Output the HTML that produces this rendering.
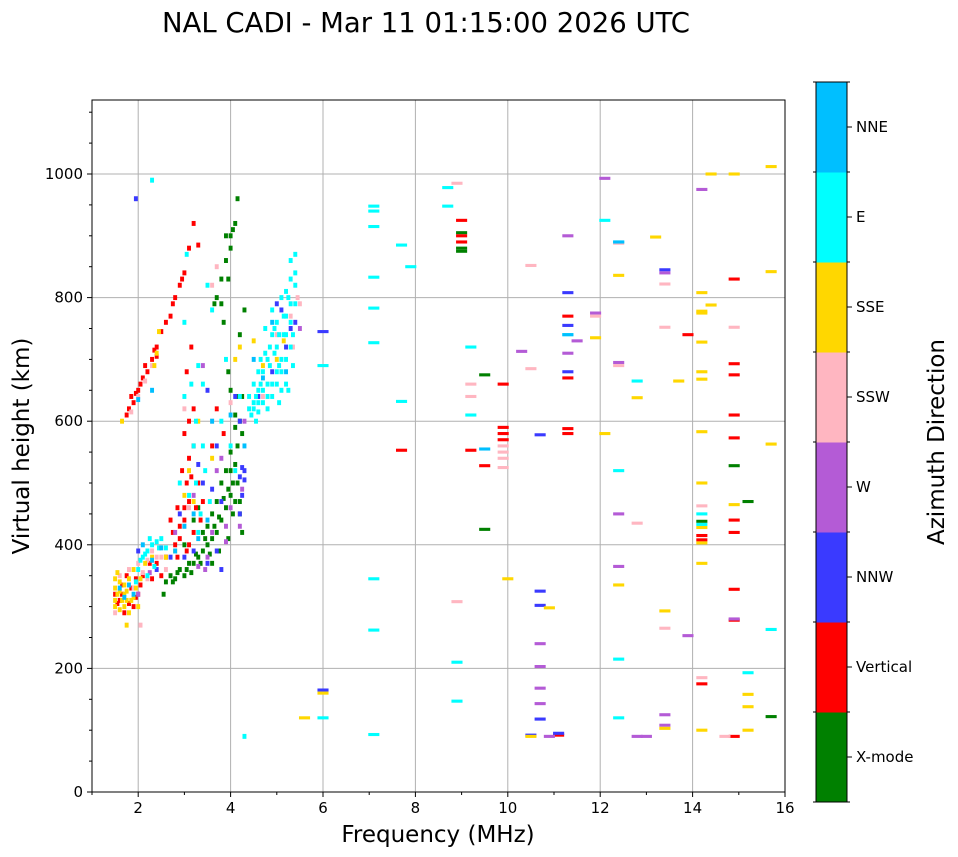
<!DOCTYPE html>
<html><head><meta charset="utf-8"><style>
body{margin:0;background:#fff;}
svg{display:block;font-family:"DejaVu Sans","Liberation Sans",sans-serif;}
</style></head><body>
<svg id="chart" width="958" height="857" viewBox="0 0 958 857" xmlns="http://www.w3.org/2000/svg">
<text x="426" y="32" font-size="27.5" text-anchor="middle">NAL CADI - Mar 11 01:15:00 2026 UTC</text>
<g id="grid"></g>
<g id="marks"></g>
<rect x="92" y="100" width="693" height="692" fill="none" stroke="#000" stroke-width="1"/>
<g id="axes"></g>
<text x="438" y="842" font-size="23" text-anchor="middle">Frequency (MHz)</text>
<text transform="translate(29,446) rotate(-90)" font-size="23" text-anchor="middle">Virtual height (km)</text>
<g id="cbar"></g>
<text transform="translate(944,442) rotate(-90)" font-size="23" text-anchor="middle">Azimuth Direction</text>
</svg>
<script>
const dirNames=["X-mode","Vertical","NNW","W","SSW","SSE","E","NNE"];
const dirColors=["#008000","#ff0000","#3a3aff","#b45bd6","#ffb6c1","#ffd700","#00ffff","#00bfff"];
const xTicks=[2,4,6,8,10,12,14,16];
const yTicks=[0,200,400,600,800,1000];

// Each series: [freq MHz, virtual height km]
const xmodePts=[[2.6,340],[2.7,350],[2.8,345],[2.9,360],[3.0,350],[3.1,370],[3.2,370],[3.3,380],[3.4,390],[3.5,400],[3.6,410],[3.7,420],[3.8,440],[3.9,460],[4.0,480],[4.05,500],[4.1,530],[4.15,560],[4.2,600],[4.25,640],[3.5,430],[3.6,450],[3.7,470],[3.8,500],[3.9,520],[4.0,550],[4.1,590],[3.4,420],[3.0,400],[3.2,440],[3.3,460],[2.55,320],[3.7,800],[3.8,830],[3.9,860],[4.0,900],[4.1,920],[4.0,880],[3.85,760],[4.2,740],[4.15,960],[3.95,680],[4.3,780],[4.2,470],[3.6,370],[4.2,450],[4.25,420],[3.75,390],[3.95,410],[4.1,610],
[2.75,340],[2.85,355],[3.05,360],[3.15,355],[3.25,385],[3.35,370],[3.45,410],[3.55,385],[3.65,430],[3.75,445],[3.85,475],[3.95,490],[4.05,450],[4.15,500],[4.25,580],[4.0,520],[4.1,470],[3.9,900],[4.05,910],[3.95,830],[3.8,790],[4.15,640],[4.0,650],[3.65,790],
[9.0,905],[9.0,880],[9.0,875],[9.5,675],[9.5,425],[14.2,438],[14.9,528],[15.2,470],[15.7,122]];
const verticalPts=[[1.5,320],[1.6,310],[1.7,290],[1.75,350],[1.85,330],[1.9,300],[2.0,320],[2.1,350],[1.8,620],[1.9,630],[2.0,650],[2.05,660],[2.1,670],[2.2,680],[2.3,700],[2.4,720],[1.75,610],[2.5,745],[2.7,770],[2.8,800],[2.9,820],[3.0,840],[3.1,880],[3.2,920],[3.3,885],[2.6,380],[2.8,400],[2.9,430],[3.0,460],[3.05,500],[3.1,540],[3.0,580],[3.2,620],[3.05,680],[3.15,720],[3.3,500],[3.4,470],[3.6,560],[2.7,440],[3.2,420],[2.5,350],[3.7,620],[3.85,580],[1.65,335],[1.95,345],[2.25,370],[2.85,460],[2.95,520],[3.1,400],[2.4,705],
[1.55,305],[1.65,320],[1.8,305],[1.95,315],[2.05,335],[1.85,640],[1.95,645],[2.15,690],[2.35,715],[2.6,760],[2.75,790],[2.95,830],[2.9,410],[3.0,440],[3.1,470],[3.15,510],[3.2,560],[3.1,600],[2.85,380],[2.75,420],[3.25,460],[3.35,440],[2.4,370],[2.3,345],[3.05,390],
[7.7,553],[9.0,925],[9.0,900],[9.0,890],[9.2,553],[9.5,528],[9.9,660],[9.9,590],[9.9,580],[9.9,570],[11.1,92],[11.3,770],[11.3,670],[11.3,588],[11.3,580],[13.9,740],[14.2,415],[14.2,408],[14.2,175],[14.9,830],[14.9,693],[14.9,675],[14.9,610],[14.9,573],[14.9,440],[14.9,420],[14.9,328],[14.9,278],[14.9,90]];
const nnwPts=[[2.0,390],[2.4,360],[2.9,450],[3.0,380],[3.2,390],[3.4,500],[3.6,490],[3.8,470],[4.2,510],[4.25,525],[4.3,505],[4.2,450],[3.5,650],[3.7,560],[5.0,790],[5.1,780],[5.3,750],[4.9,680],[4.6,640],[5.2,720],[4.1,640],[3.3,530],[2.7,380],[1.95,960],[3.8,360],[4.25,480],[4.3,520],[3.5,370],[3.7,390],[4.2,600],[5.4,760],
[6.0,745],[6.0,165],[10.5,92],[10.7,578],[10.7,325],[10.7,302],[10.7,118],[11.1,95],[11.3,808],[11.3,755],[11.3,680],[13.4,845]];
const wPts=[[3.5,380],[3.6,420],[3.7,520],[3.9,430],[4.0,460],[2.8,420],[3.2,480],[3.4,690],[2.25,355],[3.8,540],[4.3,600],[5.5,750],[3.45,360],[4.25,490],[4.2,430],[3.3,365],[3.9,405],[2.0,320],
[10.3,713],[10.7,240],[10.7,203],[10.7,168],[10.7,143],[10.9,90],[11.3,900],[11.3,710],[11.5,730],[11.9,775],[12.1,993],[12.4,695],[12.4,450],[12.4,365],[12.8,90],[13.0,90],[13.4,840],[13.4,125],[13.4,108],[13.9,253],[14.2,975],[14.9,280]];
const sswPts=[[2.0,370],[2.1,355],[2.2,375],[2.3,390],[2.4,380],[1.6,350],[1.8,360],[2.0,640],[2.15,665],[2.3,690],[1.85,615],[3.0,620],[3.6,600],[4.0,630],[5.5,790],[2.05,270],[2.6,360],[3.1,460],[3.7,850],[3.6,820],[5.3,770],[5.45,800],[1.5,290],[1.9,330],[2.2,345],[2.5,380],[3.0,430],[5.0,740],[5.35,720],[4.7,640],
[8.9,985],[8.9,308],[9.2,660],[9.2,640],[9.9,560],[9.9,550],[9.9,540],[9.9,525],[10.5,852],[10.5,685],[11.9,770],[12.4,888],[12.4,690],[12.8,435],[13.4,822],[13.4,752],[13.4,265],[14.2,463],[14.2,185],[14.7,90],[14.9,752]];
const ssePts=[[1.5,300],[1.55,320],[1.6,340],[1.5,330],[1.65,310],[1.7,300],[1.75,325],[1.8,345],[1.6,295],[1.85,310],[1.9,360],[1.95,330],[2.0,300],[1.55,355],[1.7,335],[1.8,290],[2.05,345],[2.15,370],[2.3,380],[2.4,710],[2.45,745],[2.35,690],[2.6,380],[3.0,480],[3.3,600],[3.6,540],[4.2,720],[4.5,730],[4.7,690],[3.1,520],[1.65,600],[1.75,270],[1.5,310],[1.7,320],[1.6,325],[1.75,310],[1.9,315],[1.5,345],[2.8,390],[3.2,470],[4.1,700],[5.0,700],[5.15,730],
[10.0,345],[10.5,90],[10.9,298],[11.9,735],[12.1,580],[12.4,836],[12.4,335],[12.8,638],[13.2,898],[13.4,293],[13.4,103],[13.7,665],[14.2,808],[14.2,778],[14.2,775],[14.2,728],[14.2,680],[14.2,668],[14.2,583],[14.2,500],[14.2,428],[14.2,403],[14.2,370],[14.2,100],[14.4,1000],[14.4,788],[14.9,1000],[14.9,465],[15.2,158],[15.2,138],[15.2,100],[15.7,1012],[15.7,842],[15.7,563],[5.6,120],[6.0,160]];
const ePts=[[2.0,360],[2.1,380],[2.2,390],[2.3,400],[2.4,405],[2.5,410],[2.2,350],[2.35,365],[2.6,395],[1.95,340],[3.0,760],[3.05,870],[3.3,690],[3.4,660],[3.25,600],[3.45,520],[3.1,480],[3.35,450],[3.5,820],[3.6,780],[3.8,600],[4.0,560],[4.2,640],[4.1,520],[3.9,700],[4.4,620],[4.5,630],[4.6,650],[4.7,680],[4.8,700],[4.9,740],[5.0,760],[5.1,800],[5.2,810],[5.3,830],[5.4,870],[5.4,820],[5.3,760],[5.2,700],[5.1,680],[5.0,660],[4.9,640],[4.8,620],[4.7,630],[4.6,615],[4.5,660],[4.9,780],[5.0,720],[5.15,740],[5.25,650],[5.35,690],[4.85,690],[5.05,630],[4.75,750],[5.4,790],[4.65,700],[5.3,860],[4.55,600],[4.4,640],[5.2,770],[3.2,560],[3.55,470],[2.9,500],[4.45,610],[4.6,680],[4.95,710],[5.1,650],[5.3,720],[4.8,660],[5.05,690],
[4.5,620],[4.6,630],[4.7,650],[4.8,640],[4.9,660],[5.0,680],[5.1,700],[5.2,740],[5.3,790],[5.4,840],[4.95,750],[5.15,770],[5.25,800],[4.75,710],[4.85,720],[5.35,740],[4.65,660],[5.05,740],[5.2,660],[4.55,640],[2.15,385],[2.45,395],[2.25,410],[2.05,375],[3.25,500],[3.4,560],[3.0,640],[3.15,660],[3.3,420],
[7.1,948],[7.1,940],[7.1,915],[7.1,833],[7.1,783],[7.1,727],[7.1,345],[7.1,262],[7.1,93],[6.0,690],[6.0,120],[4.3,90],[7.7,885],[7.7,632],[7.9,850],[8.7,978],[8.7,948],[8.9,210],[8.9,147],[9.2,720],[9.2,610],[11.3,740],[12.1,925],[12.4,890],[12.4,520],[12.4,215],[12.4,120],[12.8,665],[14.2,450],[14.2,433],[15.2,193],[15.7,263],[2.3,990]];
const nnePts=[[2.1,400],[2.3,375],[2.5,395],[1.7,315],[1.9,320],[2.8,390],[3.0,430],[3.3,410],[3.6,600],[4.5,700],[4.9,760],[4.3,560],[5.2,680],[2.3,650],[2.0,635],[4.0,610],[1.6,330],[1.8,335],[3.2,450],[3.5,440],[4.7,670],
[9.5,555],[11.3,740],[12.4,890]];
const allSeries=[xmodePts,verticalPts,nnwPts,wPts,sswPts,ssePts,ePts,nnePts];

const X0=92,X1=785,Y0=792,Y1=100,FMIN=1,FMAX=16,HMAX=(792-100)/0.618;
function xs(f){return X0+(f-FMIN)/(FMAX-FMIN)*(X1-X0);}
function ys(h){return Y0-h/HMAX*(Y0-Y1);}
const NS="http://www.w3.org/2000/svg";
function mk(tag,attrs,parent){const e=document.createElementNS(NS,tag);for(const k in attrs)e.setAttribute(k,attrs[k]);parent.appendChild(e);return e;}

const grid=document.getElementById('grid'),axes=document.getElementById('axes');
xTicks.forEach(t=>{
  const x=xs(t);
  if(t<FMAX){const g=mk('line',{x1:x,x2:x,y1:Y1,y2:Y0,stroke:'#b0b0b0','stroke-width':1},grid);
  
  }
  const tk=mk('line',{x1:x,x2:x,y1:Y0,y2:Y0+5,stroke:'#000'},axes);
  
  
  const tx=mk('text',{x:x,y:Y0+21,'font-size':15,'text-anchor':'middle'},axes);tx.textContent=t;
  
  
});
for(let f=FMIN;f<=FMAX;f+=1){if(f%2===0)continue;const x=xs(f);const m=mk('line',{x1:x,x2:x,y1:Y0,y2:Y0+3,stroke:'#000'},axes);
  
  }
yTicks.forEach(t=>{
  const y=ys(t);
  if(t>0){const g=mk('line',{x1:X0,x2:X1,y1:y,y2:y,stroke:'#b0b0b0','stroke-width':1},grid);
  
  }
  const tk=mk('line',{x1:X0-5,x2:X0,y1:y,y2:y,stroke:'#000'},axes);
  
  
  const tx=mk('text',{x:X0-9,y:y+5,'font-size':15,'text-anchor':'end'},axes);tx.textContent=t;
  
  
});
for(let h=50;h<HMAX;h+=50){if(h%200===0)continue;const y=ys(h);const m=mk('line',{x1:X0-3,x2:X0,y1:y,y2:y,stroke:'#000'},axes);
  
  }

const marks=document.getElementById('marks');
allSeries.forEach((pts,d)=>{
  pts.forEach(p=>{
    const wide=p[0]>5.55;
    const w=wide?0.24:0.085, hk=wide?5:8;
    const r=mk('rect',{x:xs(p[0]-w/2),y:ys(p[1]+hk/2),width:xs(w)-xs(0),height:ys(0)-ys(hk),fill:dirColors[d]},marks);
    
    
  });
});

const cb=document.getElementById('cbar');
const CBX=816,CBW=31,CBT=82,CBB=802,seg=(CBB-CBT)/dirNames.length;
dirNames.forEach((n,i)=>{
  const y=CBB-(i+1)*seg;
  const r=mk('rect',{x:CBX,y:y,width:CBW,height:seg+0.5,fill:dirColors[i]},cb);
  
  
  const t=mk('line',{x1:CBX+CBW,x2:CBX+CBW+5,y1:y+seg/2,y2:y+seg/2,stroke:'#000'},cb);
  
  
  const tx=mk('text',{x:CBX+CBW+9,y:y+seg/2+5,'font-size':15},cb);tx.textContent=n;
  
  
});
for(let i=0;i<=dirNames.length;i++){const y=CBT+i*seg;
  const a=mk('line',{x1:CBX-3,x2:CBX,y1:y,y2:y,stroke:'#000'},cb);
  
  
  const b=mk('line',{x1:CBX+CBW,x2:CBX+CBW+3,y1:y,y2:y,stroke:'#000'},cb);
  
  }
const fr=mk('rect',{x:CBX,y:CBT,width:CBW,height:CBB-CBT,fill:'none',stroke:'#000'},cb);


</script>
</body></html>
